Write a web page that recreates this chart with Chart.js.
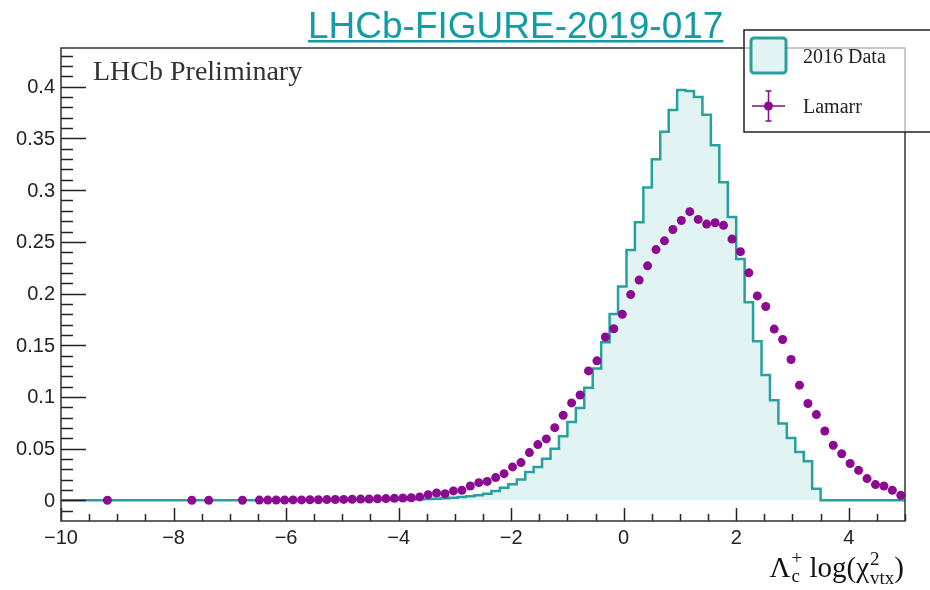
<!DOCTYPE html>
<html>
<head>
<meta charset="utf-8">
<script src="https://cdn.jsdelivr.net/npm/chart.js@4/dist/chart.umd.min.js"></script>
<style>
  body { margin: 0; background: #fff; }
  #wrap { width: 930px; height: 590px; }
</style>
</head>
<body>
<div id="wrap"><canvas id="chart" width="930" height="590"></canvas></div>
<script>
// histogram binning: 100 bins from -10 to 5
const binLow = -10;
const binWidth = 0.15;

// 2016 Data, normalised bin contents (bin 0 .. 99)
const dataValues = [
  0, 0, 0, 0, 0, 0, 0, 0, 0, 0,
  0, 0, 0, 0, 0, 0, 0, 0, 0, 0,
  0, 0, 0, 0, 0, 0, 0, 0, 0, 0,
  0, 0, 0, 0, 0, 0.0001, 0.0002, 0.0003, 0.0004, 0.0005,
  0.0006, 0.0008, 0.001, 0.0013, 0.0016, 0.002, 0.0025, 0.0032, 0.0039, 0.0049,
  0.0064, 0.0091, 0.0122, 0.0155, 0.0201, 0.0274, 0.0323, 0.0403, 0.050, 0.0619,
  0.0758, 0.0894, 0.109, 0.1274, 0.1528, 0.1803, 0.2068, 0.242, 0.269, 0.3026,
  0.330, 0.3566, 0.3775, 0.3969, 0.396, 0.390, 0.373, 0.3434, 0.3077, 0.274,
  0.2333, 0.1916, 0.1539, 0.1212, 0.0968, 0.0743, 0.0603, 0.0468, 0.0377, 0.0112,
  0, 0, 0, 0, 0, 0, 0, 0, 0, 0
];

// Lamarr, same binning (null = empty bin, no marker)
const lamarrValues = [
  null, null, null, null, null, 0.0001, null, null, null, null,
  null, null, null, null, null, 0.0001, null, 0.0001, null, null,
  null, 0.0001, null, 0.0002, 0.0002, 0.0003, 0.0003, 0.0004, 0.0004, 0.0005,
  0.0006, 0.0007, 0.0008, 0.0009, 0.001, 0.0012, 0.0013, 0.0015, 0.0017, 0.0019,
  0.0022, 0.0025, 0.0033, 0.0055, 0.0071, 0.0064, 0.0091, 0.0097, 0.0139, 0.0171,
  0.0183, 0.022, 0.0258, 0.0323, 0.0365, 0.0462, 0.0539, 0.0594, 0.0703, 0.0823,
  0.0942, 0.1019, 0.1252, 0.1349, 0.158, 0.166, 0.180, 0.199, 0.213, 0.2268,
  0.2425, 0.251, 0.2619, 0.2707, 0.2792, 0.2717, 0.2672, 0.2685, 0.266, 0.2527,
  0.2405, 0.220, 0.1977, 0.1875, 0.1656, 0.1556, 0.1362, 0.1114, 0.0936, 0.0829,
  0.0671, 0.0533, 0.0451, 0.0356, 0.029, 0.021, 0.0152, 0.0139, 0.0097, 0.0049
];

const xTicks = [-10, -8, -6, -4, -2, 0, 2, 4];
const xTickLabels = ['\u221210', '\u22128', '\u22126', '\u22124', '\u22122', '0', '2', '4'];
const yTicks = [0, 0.05, 0.1, 0.15, 0.2, 0.25, 0.3, 0.35, 0.4];
const yTickLabels = ['0', '0.05', '0.1', '0.15', '0.2', '0.25', '0.3', '0.35', '0.4'];
const legendLabels = ['2016 Data', 'Lamarr'];
const pageTitle = 'LHCb-FIGURE-2019-017';
const plotLabel = 'LHCb Preliminary';

const teal = '#26a19e';
const tealFill = '#e2f3f4';
const purple = '#8c0a92';

// step points at left bin edges + closing right edge
const histPoints = dataValues.map((v, i) => ({ x: binLow + i * binWidth, y: v }));
histPoints.push({ x: binLow + dataValues.length * binWidth, y: dataValues[dataValues.length - 1] });

const lamarrPoints = lamarrValues.map((v, i) => ({ x: binLow + (i + 0.5) * binWidth, y: v }));

const SANS = '"Liberation Sans", Arial, sans-serif';
const SERIF = '"Liberation Serif", "Times New Roman", serif';

function drawAxisTitle(ctx, right, base) {
  const big = '29px ' + SERIF, small = '19px ' + SERIF;
  ctx.font = big;
  const wL = ctx.measureText('\u039B').width;
  const wLog = ctx.measureText(' log(\u03C7').width;
  const wP = ctx.measureText(')').width;
  ctx.font = small;
  const w1 = Math.max(ctx.measureText('+').width, ctx.measureText('c').width);
  const w2 = Math.max(ctx.measureText('2').width, ctx.measureText('vtx').width);
  let xx = right - (wL + w1 + wLog + w2 + wP + 2);
  ctx.textAlign = 'left';
  ctx.textBaseline = 'alphabetic';
  ctx.font = big; ctx.fillText('\u039B', xx, base); xx += wL + 1;
  ctx.font = small; ctx.fillText('+', xx, base - 13); ctx.fillText('c', xx, base + 5); xx += w1;
  ctx.font = big; ctx.fillText(' log(\u03C7', xx, base); xx += wLog + 1;
  ctx.font = small; ctx.fillText('2', xx, base - 12); ctx.fillText('vtx', xx, base + 7); xx += w2;
  ctx.font = big; ctx.fillText(')', xx, base);
}

const rootFrame = {
  id: 'rootFrame',
  afterDatasetsDraw(chart) {
    const { ctx, chartArea: a, scales: { x, y } } = chart;
    ctx.save();

    // inward ticks, ROOT style
    ctx.strokeStyle = '#222';
    ctx.lineWidth = 1.5;
    ctx.beginPath();
    for (let k = -2; k <= 43; k++) {
      const py = Math.round(y.getPixelForValue(k / 100)) + 0.5;
      if (py < a.top || py > a.bottom) continue;
      const len = k % 5 === 0 ? 25 : 12;
      ctx.moveTo(a.left, py);
      ctx.lineTo(a.left + len, py);
    }
    for (let k = -20; k <= 10; k++) {
      const px = Math.round(x.getPixelForValue(k / 2)) + 0.5;
      const len = k % 4 === 0 ? 13 : 7;
      ctx.moveTo(px, a.bottom);
      ctx.lineTo(px, a.bottom - len);
    }
    ctx.stroke();

    // frame
    ctx.strokeStyle = '#333';
    ctx.lineWidth = 1.5;
    ctx.strokeRect(a.left, a.top, a.right - a.left, a.bottom - a.top);

    // tick labels
    ctx.fillStyle = '#222';
    ctx.font = '20px ' + SANS;
    ctx.textAlign = 'right';
    ctx.textBaseline = 'middle';
    yTicks.forEach((v, i) => ctx.fillText(yTickLabels[i], a.left - 6, y.getPixelForValue(v) + 1));
    ctx.textAlign = 'center';
    ctx.textBaseline = 'top';
    xTicks.forEach((v, i) => ctx.fillText(xTickLabels[i], x.getPixelForValue(v), a.bottom + 7));

    // texts
    ctx.fillStyle = '#333';
    ctx.font = '28px ' + SERIF;
    ctx.textAlign = 'left';
    ctx.textBaseline = 'alphabetic';
    ctx.fillText(plotLabel, 93, 80);
    ctx.fillStyle = '#111';
    drawAxisTitle(ctx, a.right - 1, 577);

    // legend
    ctx.fillStyle = 'rgba(255,255,255,0.65)';
    ctx.fillRect(744, 30, 200, 102);
    ctx.strokeStyle = '#222';
    ctx.lineWidth = 1.5;
    ctx.strokeRect(744, 30, 200, 102);
    ctx.fillStyle = tealFill;
    ctx.strokeStyle = teal;
    ctx.lineWidth = 3;
    ctx.beginPath();
    ctx.roundRect(751, 38, 35, 35, 3);
    ctx.fill();
    ctx.stroke();
    ctx.strokeStyle = purple;
    ctx.lineWidth = 1.5;
    ctx.beginPath();
    ctx.moveTo(752, 106); ctx.lineTo(785, 106);
    ctx.moveTo(768.5, 91); ctx.lineTo(768.5, 121);
    ctx.moveTo(765.5, 91); ctx.lineTo(771.5, 91);
    ctx.moveTo(765.5, 121); ctx.lineTo(771.5, 121);
    ctx.stroke();
    ctx.fillStyle = purple;
    ctx.beginPath();
    ctx.arc(768.5, 106, 4.5, 0, Math.PI * 2);
    ctx.fill();
    ctx.fillStyle = '#222';
    ctx.font = '20px ' + SERIF;
    ctx.fillText(legendLabels[0], 803, 63);
    ctx.fillText(legendLabels[1], 803, 113);

    // page title (link style)
    ctx.fillStyle = '#139ca3';
    ctx.font = '37px ' + SANS;
    ctx.fillText(pageTitle, 308, 38);
    const tw = ctx.measureText(pageTitle).width;
    ctx.fillRect(308, 40, tw, 2.5);

    ctx.restore();
  }
};

new Chart(document.getElementById('chart'), {
  type: 'line',
  data: {
    datasets: [
      {
        label: legendLabels[0],
        data: histPoints,
        stepped: true,
        borderColor: teal,
        borderWidth: 2.5,
        backgroundColor: tealFill,
        fill: 'origin',
        pointRadius: 0,
        order: 2
      },
      {
        label: legendLabels[1],
        data: lamarrPoints,
        showLine: false,
        pointRadius: 4.5,
        pointBackgroundColor: purple,
        pointBorderWidth: 0,
        borderColor: purple,
        order: 1
      }
    ]
  },
  options: {
    responsive: false,
    animation: false,
    layout: { padding: { left: 61, right: 25, top: 48, bottom: 69 } },
    scales: {
      x: { type: 'linear', min: -10, max: 5, display: false },
      y: { min: -0.02, max: 0.4375, display: false }
    },
    plugins: {
      legend: { display: false },
      tooltip: { enabled: false }
    }
  },
  plugins: [rootFrame]
});
</script>
</body>
</html>
